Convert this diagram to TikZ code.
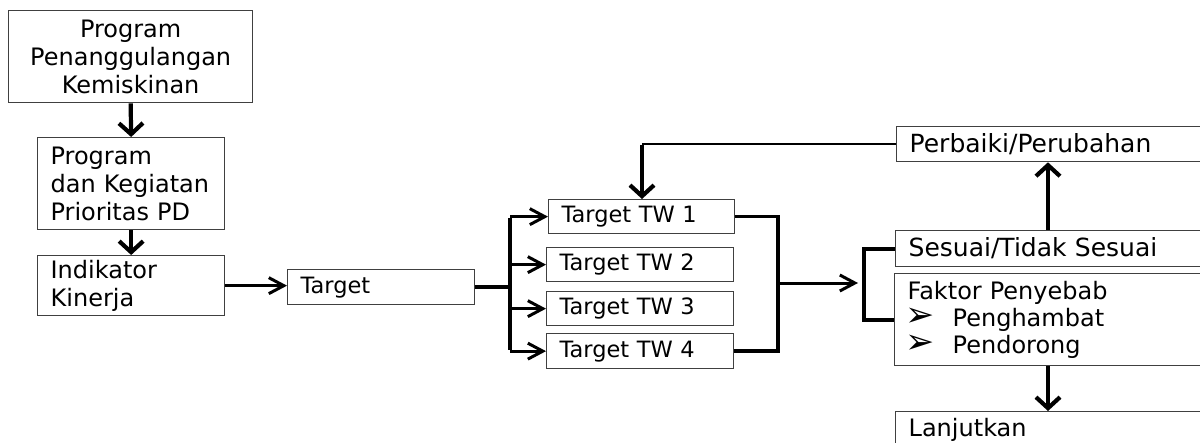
\documentclass[tikz,border=0pt]{standalone}
\usepackage{fontspec}
\usepackage{graphicx}
\setmainfont{DejaVu Sans}
\usetikzlibrary{arrows.meta}
\newcommand{\fa}{\fontsize{24}{28}\selectfont}
\newcommand{\fb}{\fontsize{22.5}{27}\selectfont}
\newcommand{\fc}{\fontsize{25}{28}\selectfont}
\newcommand{\fd}{\fontsize{24}{27}\selectfont}
\newcommand{\mybullet}{\makebox[45pt][l]{\hspace{-2pt}\smash{\scalebox{1.45}{➢}}}}
\tikzset{
  box/.style={draw=black!75, line width=1.3pt, anchor=north west, inner xsep=13pt, inner ysep=0pt, align=left},
  thinarr/.style={line width=3pt, -{Straight Barb[length=15pt,width=16pt]}},
  thickarr/.style={line width=4.2pt, -{Straight Barb[length=11pt,width=24pt]}},
  thickline/.style={line width=4.2pt},
  medline/.style={line width=3.6pt}
}
\begin{document}
\begin{tikzpicture}[x=1pt,y=-1pt]
\useasboundingbox (0,0) rectangle (1200,442);
\clip (0,0) rectangle (1200,442);
\fill[white] (0,0) rectangle (1200,442);
% boxes
\node[box, align=center, text width=218pt, minimum height=92pt, font=\fa] (b1) at (8,10) {Program\\Penanggulangan\\Kemiskinan};
\node[box, text width=161pt, minimum height=92pt, font=\fa] (b2) at (37,137) {Program\\dan Kegiatan\\Prioritas PD};
\node[box, text width=161pt, minimum height=60pt, font=\fa] (b3) at (37,255) {Indikator\\Kinerja};
\node[box, text width=161pt, minimum height=35pt, font=\fb] (tgt) at (287,269) {Target};
\node[box, text width=160pt, minimum height=34pt, font=\fb] (tw1) at (548,199) {Target TW 1};
\node[box, text width=161pt, minimum height=34pt, font=\fb] (tw2) at (546,247) {Target TW 2};
\node[box, text width=161pt, minimum height=34pt, font=\fb] (tw3) at (546,291) {Target TW 3};
\node[box, text width=161pt, minimum height=35pt, font=\fb] (tw4) at (546,333) {Target TW 4};
\node[box, text width=294pt, minimum height=35pt, font=\fc] (perb) at (896,126) {Perbaiki/Perubahan};
\node[box, text width=294pt, minimum height=36pt, font=\fc] (ses) at (895,230) {Sesuai/Tidak Sesuai};
\node[box, text width=294pt, minimum height=92pt, font=\fd] (fak) at (894,273) {Faktor Penyebab\\\mybullet Penghambat\\\mybullet Pendorong};
\node[box, text width=294pt, text height=21pt, text depth=40pt, inner ysep=4pt, font=\fa] (lan) at (895,411) {Lanjutkan};
% coordinates
\coordinate (barx) at (510,0);
\coordinate (brx) at (778,0);
\coordinate (lbx) at (864,0);
\coordinate (fbx) at (642,0);
\coordinate (vx) at (1048,0);
\coordinate (tgtend) at (tgt.east -| barx);
\coordinate (bartop) at (tw1.west -| barx);
\coordinate (barbot) at (tw4.west -| barx);
\coordinate (brmid) at (778,283);
\coordinate (brtip) at (858,283);
% vertical flow
\draw[thickarr] (b1.south) -- (b2.north);
\draw[thickarr] (b2.south) -- (b3.north);
\draw[thinarr] (b3.east) -- (b3.east -| tgt.west);
% fan out
\draw[thickline] (tgt.east) -- (tgtend);
\draw[line width=4.6pt] ([yshift=-1.5pt]bartop) -- ([yshift=1.5pt]barbot);
\draw[thinarr] (bartop) -- (tw1.west);
\draw[thinarr] (tw2.west -| barx) -- (tw2.west);
\draw[thinarr] (tw3.west -| barx) -- (tw3.west);
\draw[thinarr] (barbot) -- (tw4.west);
% fan in
\draw[medline, line join=miter] (tw1.east) -- (tw1.east -| brx) -- (tw4.east -| brx) -- (tw4.east);
\draw[thinarr] (brmid) -- (brtip);
\draw[thickline, line join=miter] (ses.west) -- (ses.west -| lbx) -- (fak.west -| lbx) -- (fak.west);
% right vertical arrows
\draw[thickarr] (ses.north -| vx) -- (perb.south -| vx);
\draw[thickarr] (fak.south -| vx) -- (lan.north -| vx);
% feedback
\draw[line width=2.4pt] (perb.west) -- (perb.west -| fbx);
\draw[thickarr] ([yshift=-1.2pt]perb.west -| fbx) -- (tw1.north -| fbx);
\end{tikzpicture}
\end{document}
